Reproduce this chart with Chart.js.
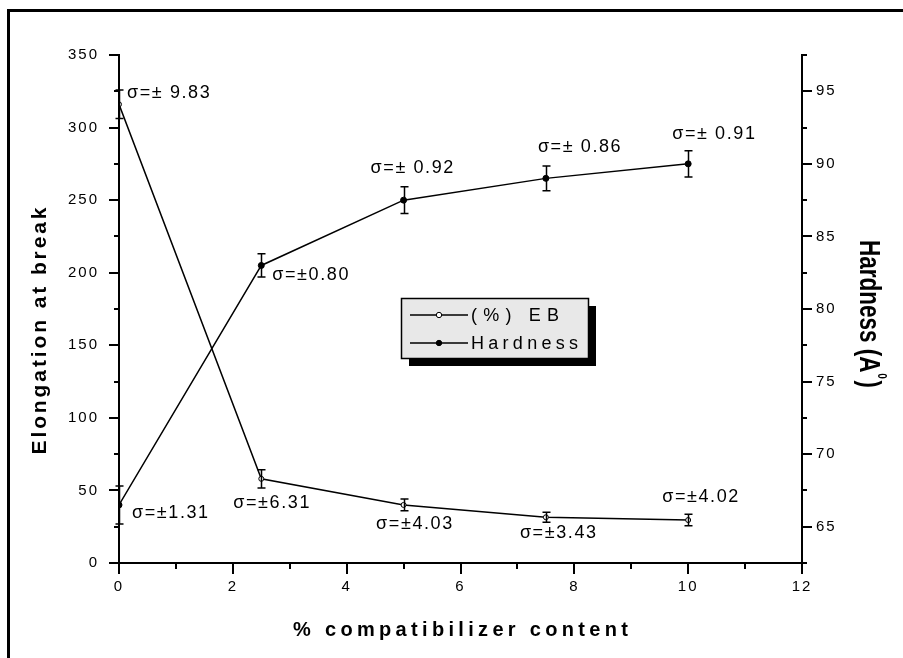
<!DOCTYPE html>
<html><head><meta charset="utf-8">
<script src="https://cdn.jsdelivr.net/npm/chart.js@4"></script>
<style>html,body{margin:0;padding:0;background:#fff}canvas{display:block}</style>
</head><body>
<canvas id="c" width="903" height="658"></canvas>
<script>
// ---- data ----
const content = [0, 2.5, 5, 7.5, 10];
const ebValues = [316, 58, 40, 31.5, 29.6];
const ebSigma = [9.83, 6.31, 4.03, 3.43, 4.02];
const hardValues = [66.5, 83, 87.5, 89, 90];
const hardSigma = [1.31, 0.80, 0.92, 0.86, 0.91];
const ebLabels = ['σ=± 9.83', 'σ=±6.31', 'σ=±4.03', 'σ=±3.43', 'σ=±4.02'];
const hardLabels = ['σ=±1.31', 'σ=±0.80', 'σ=± 0.92', 'σ=± 0.86', 'σ=± 0.91'];
const xTicks = [0, 2, 4, 6, 8, 10, 12];
const leftTicks = [0, 50, 100, 150, 200, 250, 300, 350];
const rightTicks = [65, 70, 75, 80, 85, 90, 95];
const seriesNames = ['(%) EB', 'Hardness'];
const xTitle = '% compatibilizer content';
const yTitle = 'Elongation at break';
const y1Title = 'Hardness (A';

// ---- styling / placement (not data) ----
const FONT = "'Liberation Sans', Arial, sans-serif";
const ebLabelOffsets = [[8, -11.5], [-28, 24], [-27.5, 19], [-26, 16], [-26, -23]];
const hardLabelOffsets = [[13, 8], [11, 10], [-33, -32.6], [-8, -31], [-16, -30]];

function setLS(ctx, px) { if ('letterSpacing' in ctx) ctx.letterSpacing = px + 'px'; }
function drawFitted(ctx, text, x, y, target) {
  setLS(ctx, 0);
  const w = ctx.measureText(text).width;
  const n = [...text].length;
  const s = n > 1 ? (target - w) / (n - 1) : 0;
  setLS(ctx, s);
  ctx.fillText(text, x, y);
  setLS(ctx, 0);
}

const decor = {
  id: 'decor',
  beforeDraw(chart) {
    setLS(chart.ctx, 2);
  },
  afterDatasetsDraw(chart) {
    const ctx = chart.ctx;
    const xs = chart.scales.x;
    ctx.save();
    ctx.strokeStyle = '#000';
    ctx.lineWidth = 1.5;
    const sets = [[chart.scales.y, ebValues, ebSigma], [chart.scales.y1, hardValues, hardSigma]];
    sets.forEach(([ys, vals, sig]) => {
      vals.forEach((v, j) => {
        const px = Math.round(xs.getPixelForValue(content[j])) + 0.5;
        const t = ys.getPixelForValue(v + sig[j]);
        const b = ys.getPixelForValue(v - sig[j]);
        ctx.beginPath();
        ctx.moveTo(px, t); ctx.lineTo(px, b);
        ctx.moveTo(px - 4, t); ctx.lineTo(px + 4, t);
        ctx.moveTo(px - 4, b); ctx.lineTo(px + 4, b);
        ctx.stroke();
      });
    });
    ctx.restore();
  },
  afterDraw(chart) {
    const ctx = chart.ctx;
    const xs = chart.scales.x, ys = chart.scales.y, y1 = chart.scales.y1;
    const ca = chart.chartArea;
    ctx.save();
    setLS(ctx, 0);
    ctx.strokeStyle = '#000';
    ctx.fillStyle = '#000';
    // frame
    ctx.lineWidth = 3;
    ctx.beginPath();
    ctx.moveTo(8.5, 660); ctx.lineTo(8.5, 10.5); ctx.lineTo(905, 10.5);
    ctx.stroke();
    // tick marks
    ctx.lineWidth = 2;
    ctx.beginPath();
    for (let v = ys.min; v <= ys.max + 1e-9; v += 25) {
      const py = Math.round(ys.getPixelForValue(v));
      const len = (v % 50 === 0) ? 10 : 5;
      ctx.moveTo(ca.left, py); ctx.lineTo(ca.left - len, py);
    }
    for (let v = y1.min; v <= y1.max + 1e-9; v += 2.5) {
      const py = Math.round(y1.getPixelForValue(v));
      const len = (Math.abs(v % 5) < 1e-9) ? 10 : 5;
      ctx.moveTo(ca.right, py); ctx.lineTo(ca.right + len, py);
    }
    for (let v = xs.min; v <= xs.max + 1e-9; v += 1) {
      const px = Math.round(xs.getPixelForValue(v));
      const len = (v % 2 === 0) ? 11 : 6;
      ctx.moveTo(px, ca.bottom); ctx.lineTo(px, ca.bottom + len);
    }
    ctx.stroke();

    // sigma annotations
    ctx.font = '18px ' + FONT;
    ctx.textBaseline = 'middle';
    ctx.textAlign = 'left';
    setLS(ctx, 1.6);
    ebValues.forEach((v, j) => {
      const px = xs.getPixelForValue(content[j]), py = ys.getPixelForValue(v);
      ctx.fillText(ebLabels[j], px + ebLabelOffsets[j][0], py + ebLabelOffsets[j][1]);
    });
    hardValues.forEach((v, j) => {
      const px = xs.getPixelForValue(content[j]), py = y1.getPixelForValue(v);
      ctx.fillText(hardLabels[j], px + hardLabelOffsets[j][0], py + hardLabelOffsets[j][1]);
    });
    setLS(ctx, 0);

    // legend
    const L = 401, T = 298, W = 187, H = 60;
    ctx.fillStyle = '#000';
    ctx.fillRect(L + 8, T + 8, W, H);
    ctx.fillStyle = '#e8e8e8';
    ctx.fillRect(L, T, W, H);
    ctx.lineWidth = 1.5;
    ctx.strokeRect(L + 0.5, T + 0.5, W, H);
    const rows = [315, 343];
    const targets = [88, 107];
    chart.data.datasets.forEach((ds, i) => {
      const ry = rows[i];
      ctx.strokeStyle = '#000';
      ctx.lineWidth = 1.5;
      ctx.beginPath(); ctx.moveTo(410, ry); ctx.lineTo(468, ry); ctx.stroke();
      ctx.beginPath(); ctx.arc(439, ry, 2.7, 0, Math.PI * 2);
      ctx.fillStyle = ds.pointBackgroundColor; ctx.fill();
      ctx.lineWidth = 1; ctx.stroke();
      ctx.fillStyle = '#000';
      ctx.font = '18px ' + FONT;
      ctx.textBaseline = 'middle';
      drawFitted(ctx, ds.label, 471, ry + 1, targets[i]);
    });

    // axis titles
    ctx.fillStyle = '#000';
    ctx.textBaseline = 'middle';
    ctx.textAlign = 'left';
    // bottom
    ctx.font = 'bold 20px ' + FONT;
    drawFitted(ctx, xTitle, 293, 630, 335);
    // left
    ctx.save();
    ctx.translate(40, 331);
    ctx.rotate(-Math.PI / 2);
    ctx.font = 'bold 21px ' + FONT;
    drawFitted(ctx, yTitle, -123.5, 0, 247);
    ctx.restore();
    // right
    ctx.save();
    ctx.translate(868, 240);
    ctx.rotate(Math.PI / 2);
    ctx.font = 'bold 29px ' + FONT;
    const w1 = ctx.measureText(y1Title).width;
    const w2 = ctx.measureText(')').width;
    const sx = (148 - 8) / (w1 + w2);
    ctx.scale(sx, 1);
    ctx.fillText(y1Title, 0, 0);
    ctx.font = 'bold 13px ' + FONT;
    ctx.fillText('0', w1 + 1, -14);
    ctx.font = 'bold 29px ' + FONT;
    ctx.fillText(')', w1 + 8 / sx, 0);
    ctx.restore();

    ctx.restore();
  }
};

const tickFont = { family: FONT, size: 15 };
new Chart(document.getElementById('c'), {
  type: 'line',
  data: {
    datasets: [
      {
        label: seriesNames[0],
        data: content.map((x, i) => ({ x, y: ebValues[i] })),
        yAxisID: 'y',
        borderColor: '#000', borderWidth: 1.5,
        pointRadius: 2.5, pointBackgroundColor: '#fff', pointBorderColor: '#000', pointBorderWidth: 1,
        tension: 0, fill: false
      },
      {
        label: seriesNames[1],
        data: content.map((x, i) => ({ x, y: hardValues[i] })),
        yAxisID: 'y1',
        borderColor: '#000', borderWidth: 1.5,
        pointRadius: 3, pointBackgroundColor: '#000', pointBorderColor: '#000', pointBorderWidth: 1,
        tension: 0, fill: false
      }
    ]
  },
  options: {
    responsive: false,
    animation: false,
    devicePixelRatio: 1,
    layout: { padding: { top: 55, left: 0, right: 0, bottom: 0 } },
    plugins: { legend: { display: false }, tooltip: { enabled: false } },
    scales: {
      x: {
        type: 'linear', position: 'bottom', min: 0, max: 12,
        grid: { display: false, drawTicks: false },
        border: { display: true, color: '#000', width: 2 },
        ticks: { padding: 15, font: tickFont, color: '#000', maxRotation: 0, autoSkip: false },
        afterBuildTicks: s => { s.ticks = xTicks.map(v => ({ value: v })); },
        afterFit: s => { s.height = 95; }
      },
      y: {
        type: 'linear', position: 'left', min: 0, max: 350,
        grid: { display: false, drawTicks: false },
        border: { display: true, color: '#000', width: 2 },
        ticks: { padding: 20, font: tickFont, color: '#000', autoSkip: false },
        afterBuildTicks: s => { s.ticks = leftTicks.map(v => ({ value: v })); },
        afterFit: s => { s.width = 119; }
      },
      y1: {
        type: 'linear', position: 'right', min: 62.5, max: 97.5,
        grid: { display: false, drawTicks: false },
        border: { display: true, color: '#000', width: 2 },
        ticks: { padding: 14, font: tickFont, color: '#000', autoSkip: false },
        afterBuildTicks: s => { s.ticks = rightTicks.map(v => ({ value: v })); },
        afterFit: s => { s.width = 101; }
      }
    }
  },
  plugins: [decor]
});
</script>
</body></html>
